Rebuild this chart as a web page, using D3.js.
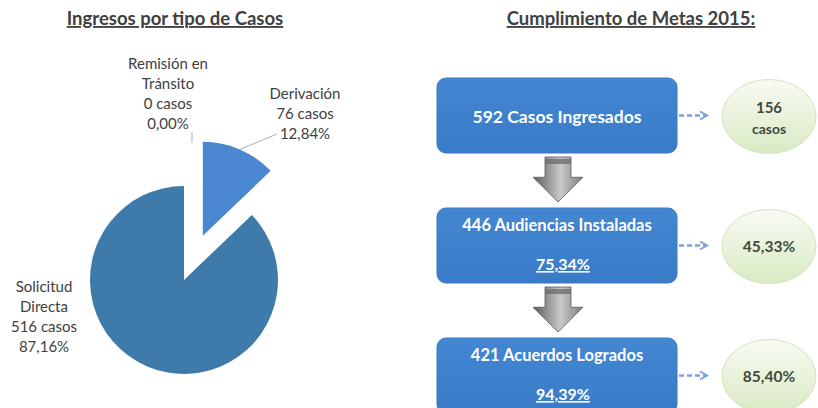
<!DOCTYPE html>
<html>
<head>
<meta charset="utf-8">
<script src="https://cdn.jsdelivr.net/npm/d3@7"></script>
<style>
  html, body { margin: 0; padding: 0; background: #ffffff; }
  svg { display: block; font-family: Lato, "Open Sans", sans-serif; }
</style>
</head>
<body>
<svg id="chart" width="818" height="408"></svg>
<script>
// ---------- DATA ----------
const pieTitle = "Ingresos por tipo de Casos";
const pieCategories = ["Remisión en Tránsito", "Derivación", "Solicitud Directa"];
const pieLabelLines = [["Remisión en", "Tránsito"], ["Derivación"], ["Solicitud", "Directa"]];
const pieCases = [0, 76, 516];
const piePercents = ["0,00%", "12,84%", "87,16%"];

const flowTitle = "Cumplimiento de Metas 2015:";
const flowCounts = [592, 446, 421];
const flowStages = ["Casos Ingresados", "Audiencias Instaladas", "Acuerdos Logrados"];
const flowRates = [null, "75,34%", "94,39%"];
const goalLines = [["156", "casos"], ["45,33%"], ["85,40%"]];

// ---------- SETUP ----------
const svg = d3.select("#chart");
const defs = svg.append("defs");
const textColor = "#404040";

// gradients
const gEll = defs.append("linearGradient").attr("id", "ellFill").attr("x1", 0).attr("y1", 0).attr("x2", 0).attr("y2", 1);
gEll.append("stop").attr("offset", "0%").attr("stop-color", "#f8fbf3");
gEll.append("stop").attr("offset", "100%").attr("stop-color", "#d9eac3");

const gBox = defs.append("linearGradient").attr("id", "boxFill").attr("x1", 0).attr("y1", 0).attr("x2", 0).attr("y2", 1);
gBox.append("stop").attr("offset", "0%").attr("stop-color", "#4386d2");
gBox.append("stop").attr("offset", "100%").attr("stop-color", "#397bc6");

const gArr = defs.append("linearGradient").attr("id", "arrFill").attr("x1", 0).attr("y1", 0).attr("x2", 1).attr("y2", 0);
gArr.append("stop").attr("offset", "0%").attr("stop-color", "#5a5a5a");
gArr.append("stop").attr("offset", "55%").attr("stop-color", "#c9c9c9");
gArr.append("stop").attr("offset", "100%").attr("stop-color", "#7d7d7d");

defs.append("marker")
  .attr("id", "dashHead").attr("viewBox", "0 0 10 10")
  .attr("refX", 8).attr("refY", 5)
  .attr("markerWidth", 4).attr("markerHeight", 4)
  .attr("markerUnits", "strokeWidth")
  .attr("orient", "auto")
  .append("path").attr("d", "M1,1 L8,5 L1,9")
  .attr("fill", "none").attr("stroke", "#7ea3da").attr("stroke-width", 2);

// ---------- TITLES ----------
svg.append("text").attr("x", 175).attr("y", 25)
  .attr("text-anchor", "middle").attr("font-size", 18.5).attr("font-weight", "bold")
  .attr("fill", textColor).style("text-decoration", "underline")
  .text(pieTitle);

svg.append("text").attr("x", 631).attr("y", 25)
  .attr("text-anchor", "middle").attr("font-size", 18.5).attr("font-weight", "bold")
  .attr("fill", textColor).style("text-decoration", "underline")
  .text(flowTitle);

// ---------- PIE ----------
const cx = 184, cy = 280, R = 94;
const explodeOffset = [0, 48, 0];
const sliceColors = ["#4b87d1", "#4b87d1", "#3e7baa"];

const pie = d3.pie().sort(null).value(d => d);
const arcs = pie(pieCases);
const arc = d3.arc().innerRadius(0).outerRadius(R);

const pieG = svg.append("g").attr("transform", `translate(${cx},${cy})`);

function offsetOf(d, i) {
  const mid = (d.startAngle + d.endAngle) / 2;
  return [Math.sin(mid) * explodeOffset[i], -Math.cos(mid) * explodeOffset[i]];
}

pieG.selectAll("path.slice").data(arcs).join("path")
  .attr("class", "slice")
  .attr("d", arc)
  .attr("transform", (d, i) => { const o = offsetOf(d, i); return `translate(${o[0]},${o[1]})`; })
  .attr("fill", (d, i) => sliceColors[i]);

// label placement (relative to pie centre) and styling
const labelPos = [[-16, -211], [121, -181], [-140, 12]];
const lineH = 20;

arcs.forEach((d, i) => {
  const lines = pieLabelLines[i].concat([pieCases[i] + " casos", piePercents[i]]);
  const t = pieG.append("text")
    .attr("text-anchor", "middle")
    .attr("font-size", 15)
    .attr("fill", textColor);
  lines.forEach((ln, k) => {
    t.append("tspan").attr("x", labelPos[i][0]).attr("y", labelPos[i][1] + k * lineH).text(ln);
  });
});

// leader lines
(function () {
  // Derivación
  const d = arcs[1];
  const o = offsetOf(d, 1);
  const mid = (d.startAngle + d.endAngle) / 2;
  const sx = o[0] + Math.sin(mid) * R, sy = o[1] - Math.cos(mid) * R;
  pieG.append("path")
    .attr("d", `M${sx},${sy} Q${sx + 20},${sy - 8} ${labelPos[1][0] - 28},${labelPos[1][1] + 2 * lineH - 5}`)
    .attr("fill", "none").attr("stroke", "#9a9a9a").attr("stroke-width", 0.8);
  // Remisión (zero slice)
  const lx = labelPos[0][0] + 24;
  pieG.append("line")
    .attr("x1", lx).attr("x2", lx)
    .attr("y1", labelPos[0][1] + 3 * lineH + 3).attr("y2", labelPos[0][1] + 3 * lineH + 14)
    .attr("stroke", "#9a9a9a").attr("stroke-width", 0.8);
})();

// ---------- FLOW DIAGRAM ----------
const rowY = d3.scaleLinear().domain([0, flowCounts.length - 1]).range([78, 338]);
const boxX = 437, boxW = 240, boxH = 75;
const boxCx = boxX + boxW / 2;

const rows = svg.selectAll("g.row").data(flowCounts).join("g").attr("class", "row");

rows.append("rect")
  .attr("x", boxX).attr("y", (d, i) => rowY(i))
  .attr("width", boxW).attr("height", boxH)
  .attr("rx", 9).attr("ry", 9)
  .attr("fill", "url(#boxFill)")
  .attr("stroke", "#3a78c0").attr("stroke-width", 1);

rows.each(function (d, i) {
  const g = d3.select(this);
  const top = rowY(i);
  const label = d + " " + flowStages[i];
  if (flowRates[i] === null) {
    g.append("text").attr("x", boxCx).attr("y", top + boxH / 2 + 7)
      .attr("text-anchor", "middle").attr("font-size", 17.5).attr("font-weight", "bold")
      .attr("fill", "#ffffff").text(label);
  } else {
    g.append("text").attr("x", boxCx).attr("y", top + 23)
      .attr("text-anchor", "middle").attr("font-size", 16.5).attr("font-weight", "bold")
      .attr("fill", "#ffffff").text(label);
    g.append("text").attr("x", boxCx + 6).attr("y", top + 62)
      .attr("text-anchor", "middle").attr("font-size", 16).attr("font-weight", "bold")
      .attr("fill", "#ffffff").style("text-decoration", "underline").text(flowRates[i]);
  }

  // dashed arrow to goal ellipse
  const ay = top + boxH / 2;
  g.append("line")
    .attr("x1", boxX + boxW + 2).attr("x2", 707)
    .attr("y1", ay).attr("y2", ay)
    .attr("stroke", "#7ea3da").attr("stroke-width", 2.5)
    .attr("stroke-dasharray", "5,3")
    .attr("marker-end", "url(#dashHead)");

  // goal ellipse
  const ex = 769, ey = ay + 1;
  g.append("ellipse")
    .attr("cx", ex).attr("cy", ey).attr("rx", 47).attr("ry", 37)
    .attr("fill", "url(#ellFill)")
    .attr("stroke", "#d3e3bf").attr("stroke-width", 1);
  const gl = goalLines[i];
  if (gl.length === 2) {
    g.append("text").attr("x", ex).attr("y", ey - 4)
      .attr("text-anchor", "middle").attr("font-size", 15).attr("font-weight", "bold")
      .attr("fill", "#3f4a3f").text(gl[0]);
    g.append("text").attr("x", ex).attr("y", ey + 17)
      .attr("text-anchor", "middle").attr("font-size", 14).attr("font-weight", "bold")
      .attr("fill", "#3f4a3f").text(gl[1]);
  } else {
    g.append("text").attr("x", ex).attr("y", ey + 5)
      .attr("text-anchor", "middle").attr("font-size", 15.5).attr("font-weight", "bold")
      .attr("fill", "#3f4a3f").text(gl[0]);
  }

  // down arrow to next box
  if (i < flowCounts.length - 1) {
    const y0 = top + boxH + 4;
    const y1 = rowY(i + 1) - 6;
    const headTop = y0 + (y1 - y0) * 0.45;
    const ax = boxCx + 1;
    const sw = 13, hw = 25;
    g.append("path")
      .attr("d", `M${ax - sw},${y0} L${ax + sw},${y0} L${ax + sw},${headTop} L${ax + hw},${headTop} L${ax},${y1} L${ax - hw},${headTop} L${ax - sw},${headTop} Z`)
      .attr("fill", "url(#arrFill)")
      .attr("stroke", "#5a5a5a").attr("stroke-width", 0.8);
    g.append("rect")
      .attr("x", ax - sw).attr("y", y0 + 2).attr("width", sw * 2).attr("height", 5)
      .attr("fill", "#6e6e6e").attr("opacity", 0.8);
  }
});
</script>
</body>
</html>
